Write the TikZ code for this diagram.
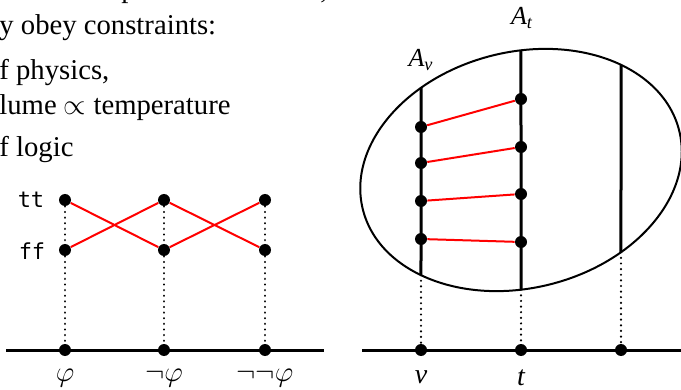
\documentclass[tikz,border=0pt]{standalone}
\usepackage{fontspec}
\setmainfont{Liberation Serif}
\newfontfamily\monof{DejaVu Sans Mono}
\usetikzlibrary{intersections}
\begin{document}
\begin{tikzpicture}[x=0.5pt,y=-0.5pt,
  dot/.style={circle,fill=black,inner sep=0pt,minimum size=6pt},
  axis/.style={line width=1.5pt},
  link/.style={red,line width=1pt},
  guide/.style={line width=1.2pt,dash pattern=on 0.01pt off 2.8pt,line cap=round},
  fiber/.style={line width=1.5pt},
  txt/.style={font=\fontsize{14.35}{17}\selectfont,inner sep=0pt,anchor=base west},
  lab/.style={font=\fontsize{14}{17}\selectfont,inner sep=0pt},
  tv/.style={font=\monof\fontsize{11}{13}\selectfont,inner sep=0pt},
]
\useasboundingbox (0,0) rectangle (681,390);

% text fragments
\node[txt] (p1) at (121,-2) {p};
\node[txt] (c1) at (320,-1) {,};
\node[txt] (l1) at (-1,35) {y obey constraints:};
\node[txt] (l2) at (-1,80) {f physics,};
\node[txt] (l3) at (-1,115) {lume $\propto$ temperature};
\node[txt] (l4) at (-1,157) {f logic};

% left diagram
\coordinate (axL) at (6,350);
\coordinate (axR) at (324,350);
\draw[axis] (axL) -- (axR);
\foreach \i/\x in {1/65,2/164,3/265} {
  \node[dot] (t\i) at (\x,200) {};
  \node[dot] (f\i) at (\x,250) {};
  \node[dot] (a\i) at (\x,350) {};
  \draw[guide] (t\i) -- (f\i);
  \draw[guide] (f\i) -- (a\i);
}
\draw[link] (t1) -- (f2);
\draw[link] (f1) -- (t2);
\draw[link] (t2) -- (f3);
\draw[link] (f2) -- (t3);
\node[tv] (ltt) at (31,200) {tt};
\node[tv] (lff) at (32,251) {ff};
\node[lab] (phi1) at (65,378) {$\varphi$};
\node[lab] (phi2) at (164,378) {$\neg\varphi$};
\node[lab] (phi3) at (265,378) {$\neg\neg\varphi$};

% right diagram
\coordinate (c) at (521,170);
\draw[line width=1pt,name path=ell,rotate around={14:(c)}] (c) ellipse [x radius=81.5pt,y radius=59pt];
\path[name path=vv] (421,0) -- (421,390);
\path[name path=vt] (521,0) -- (521,390);
\path[name path=vw] (621,0) -- (621,390);
\path[name intersections={of=ell and vv,sort by=vv,by={vTop,vBot}}];
\path[name intersections={of=ell and vt,sort by=vt,by={tTop,tBot}}];
\path[name intersections={of=ell and vw,sort by=vw,by={wTop,wBot}}];
\draw[fiber] (vTop) -- (vBot);
\draw[fiber] (tTop) -- (tBot);
\draw[fiber] (wTop) -- (wBot);

\coordinate (bxL) at (362,350);
\coordinate (bxR) at (681,350);
\draw[axis] (bxL) -- (bxR);
\node[dot] (av) at (421,350) {};
\node[dot] (at) at (521,350) {};
\node[dot] (aw) at (621,350) {};
\draw[guide] (vBot) -- (av);
\draw[guide] (tBot) -- (at);
\draw[guide] (wBot) -- (aw);

\foreach \i/\yv/\yt in {1/127/99,2/163/147,3/201/194,4/239/242} {
  \node[dot] (pv\i) at (421,\yv) {};
  \node[dot] (pt\i) at (521,\yt) {};
  \draw[link] (pv\i) -- (pt\i);
}

\node[lab,font=\fontsize{13}{15}\selectfont\itshape] (Av) at (421,60) {A\textsubscript{v}};
\node[lab,font=\fontsize{13}{15}\selectfont\itshape] (At) at (522,18) {A\textsubscript{t}};
\node[lab,font=\fontsize{14}{17}\selectfont\itshape] (lv) at (421,377) {v};
\node[lab,font=\fontsize{14}{17}\selectfont\itshape] (lt) at (521,378) {t};
\end{tikzpicture}
\end{document}
